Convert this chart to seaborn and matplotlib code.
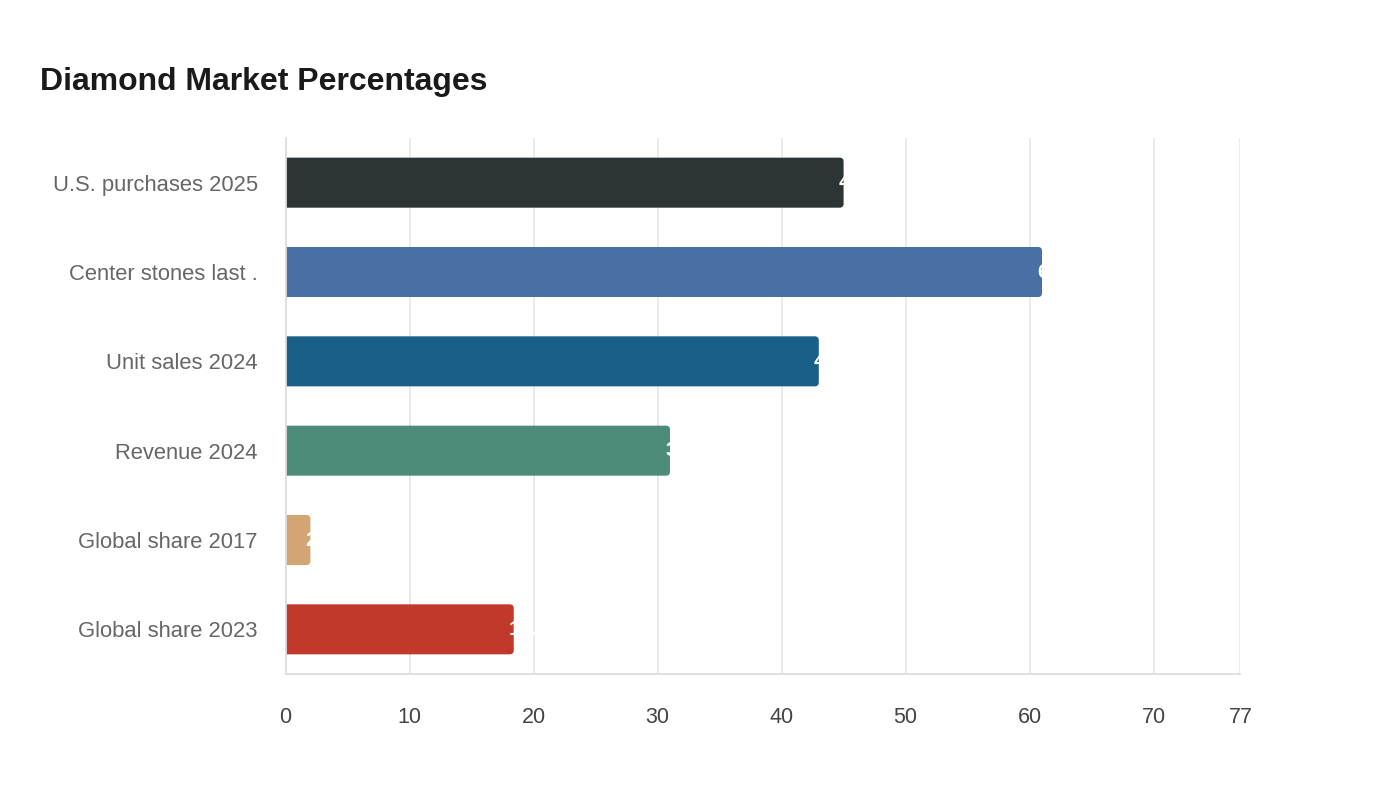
import matplotlib
matplotlib.use('Agg')
import matplotlib.pyplot as plt
import seaborn as sns
import pandas as pd
from matplotlib.patches import FancyBboxPatch
from matplotlib.transforms import offset_copy

# Data
categories = ['U.S. purchases 2025', 'Center stones last .', 'Unit sales 2024',
              'Revenue 2024', 'Global share 2017', 'Global share 2023']
values = [45, 61, 43, 31, 2, 18.4]
value_labels = ['45%', '61%', '43%', '31%', '2%', '18.4%']
colors = ['#2d3436', '#4a6fa5', '#196088', '#4e8c7a', '#d4a574', '#c0392b']
xticks = [0, 10, 20, 30, 40, 50, 60, 70, 77]

df = pd.DataFrame({'category': categories, 'value': values})

sns.set_theme(style='white')
plt.rcParams['font.family'] = ['Liberation Sans', 'DejaVu Sans']

fig = plt.figure(figsize=(14, 8), dpi=100)
ax = fig.add_axes([0.204, 0.1575, 0.682, 0.67])

sns.barplot(data=df, x='value', y='category', hue='category', palette=colors,
            orient='h', width=0.56, saturation=1, legend=False, ax=ax, zorder=2)

ax.set_xlim(0, 77)
ax.set_ylim(5.5, -0.5)

# swap the square bars for bars with rounded ends
px_x = ax.get_window_extent().width / 77
px_y = ax.get_window_extent().height / 6
r = 4 / px_x
aspect = (4 / px_y) / r
for p in list(ax.patches):
    x0, y0 = p.get_x(), p.get_y()
    w, h = p.get_width(), p.get_height()
    fc = p.get_facecolor()
    p.remove()
    ax.add_patch(FancyBboxPatch((x0 - 1, y0), w + 1, h,
                                boxstyle=f'round,pad=0,rounding_size={r}',
                                mutation_aspect=aspect, facecolor=fc,
                                edgecolor='none', zorder=2))

# white value labels, starting just inside the bar end
trans = offset_copy(ax.transData, fig=fig, x=-5, y=0, units='dots')
for i, (v, lab) in enumerate(zip(values, value_labels)):
    ax.text(v, i, lab, transform=trans, ha='left', va='center',
            color='white', fontsize=15, fontweight='bold', zorder=3)

ax.set_xticks(xticks)
ax.set_xticklabels([str(t) for t in xticks], fontsize=15.5, color='#444444')
ax.set_yticklabels(categories, fontsize=15.8, color='#666666')
ax.set_xlabel('')
ax.set_ylabel('')

ax.grid(axis='x', color='#e8e8e8', linewidth=1.3, zorder=0)
ax.grid(axis='y', visible=False)
ax.set_axisbelow(True)
for side in ['top', 'right']:
    ax.spines[side].set_visible(False)
for side in ['left', 'bottom']:
    ax.spines[side].set_color('#dddddd')
    ax.spines[side].set_linewidth(1.3)
ax.tick_params(axis='x', length=11, width=1.3, color='#e8e8e8', pad=13)
ax.tick_params(axis='y', length=0, pad=20)

fig.text(40 / 1400, 1 - 82 / 800, 'Diamond Market Percentages', fontsize=23,
         fontweight='bold', color='#1a1a1a', ha='left', va='center')

fig.savefig('out.png', dpi=100, facecolor='white')
